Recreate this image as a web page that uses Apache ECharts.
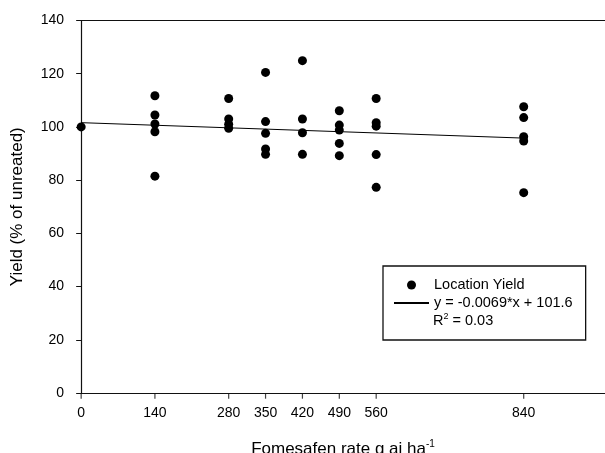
<!DOCTYPE html>
<html>
<head>
<meta charset="utf-8">
<script src="https://cdn.jsdelivr.net/npm/echarts@6/dist/echarts.min.js"></script>
<style>
  html, body { margin: 0; padding: 0; background: #fff; }
  #chart { width: 605px; height: 453px; }
</style>
</head>
<body>
<div id="chart"></div>
<script>
// fomesafen rates shown on the x axis
const rateTicks = [0, 140, 280, 350, 420, 490, 560, 840]
const yTicks = [0, 20, 40, 60, 80, 100, 120, 140]

// one entry per plotted point (rate, yield % of untreated)
const pointRate = [
  0,
  140, 140, 140, 140, 140,
  280, 280, 280, 280,
  350, 350, 350, 350, 350,
  420, 420, 420, 420,
  490, 490, 490, 490, 490,
  560, 560, 560, 560, 560,
  840, 840, 840, 840, 840
]
const pointYield = [
  100,
  111.7, 104.5, 101.1, 98.2, 81.5,
  110.7, 103, 101, 99.5,
  120.5, 102, 97.6, 91.7, 89.7,
  124.9, 103, 97.8, 89.7,
  106.1, 100.7, 98.8, 93.8, 89.2,
  110.7, 101.6, 100.3, 89.6, 77.3,
  107.6, 103.5, 96.3, 94.7, 75.3
]

// regression line end points
const fitX = [0, 840]
const fitY = [101.6, 95.8]

const fitName = 'y = -0.0069*x + 101.6'
const font = 'Liberation Sans, Arial, sans-serif'

const chart = echarts.init(document.getElementById('chart'))

chart.setOption({
  animation: false,
  backgroundColor: '#fff',
  grid: {
    left: 78,
    top: 20.5,
    bottom: 60,
    width: 530,
    containLabel: false,
    outerBoundsMode: 'none'
  },
  xAxis: [{
    type: 'value',
    min: -6,
    max: 1000,
    name: '{a|Fomesafen rate g ai ha}{b|-1}',
    nameLocation: 'middle',
    nameGap: 46,
    nameTextStyle: {
      rich: {
        a: { fontFamily: font, fontSize: 17, color: '#000', lineHeight: 20 },
        b: { fontFamily: font, fontSize: 10, color: '#000', verticalAlign: 'top', lineHeight: 20 }
      }
    },
    splitLine: { show: false },
    axisLine: { show: true, onZero: false, lineStyle: { color: '#111', width: 1.2 } },
    // custom tick values don't draw here, ticks come from the series below
    axisTick: { show: false },
    axisLabel: {
      customValues: rateTicks,
      margin: 13,
      fontFamily: font,
      fontSize: 14,
      color: '#000'
    }
  }, {
    // top frame line
    type: 'value',
    position: 'top',
    min: -6,
    max: 1000,
    splitLine: { show: false },
    axisLine: { show: true, onZero: false, lineStyle: { color: '#111', width: 1.2 } },
    axisTick: { show: false },
    axisLabel: { show: false }
  }],
  yAxis: {
    type: 'value',
    min: 0,
    max: 140,
    interval: 20,
    name: 'Yield (% of unreated)',
    nameLocation: 'middle',
    nameGap: 52,
    nameTextStyle: { fontFamily: font, fontSize: 17, color: '#000' },
    splitLine: { show: false },
    axisLine: { show: true, lineStyle: { color: '#111', width: 1.2 } },
    axisTick: { show: true, inside: false, length: 5, lineStyle: { color: '#111' } },
    axisLabel: {
      customValues: yTicks,
      margin: 14,
      fontFamily: font,
      fontSize: 14,
      color: '#000'
    }
  },
  legend: {
    orient: 'vertical',
    left: 383,
    top: 266,
    padding: [10, 13, 28, 10],
    itemWidth: 35,
    itemHeight: 9,
    itemGap: 0,
    borderColor: '#111',
    borderWidth: 1.3,
    selectedMode: false,
    textStyle: { fontFamily: font, fontSize: 14.5, color: '#000', lineHeight: 18 },
    data: [
      'Location Yield',
      { name: fitName, itemStyle: { opacity: 0 } }
    ]
  },
  graphic: [{
    type: 'text',
    left: 433,
    top: 312,
    style: {
      text: '{a|R}{b|2}{a| = 0.03}',
      rich: {
        a: { fontFamily: font, fontSize: 14.5, fill: '#000', lineHeight: 18 },
        b: { fontFamily: font, fontSize: 9, fill: '#000', verticalAlign: 'top', lineHeight: 18 }
      }
    }
  }],
  series: [{
    name: 'Location Yield',
    type: 'scatter',
    symbol: 'circle',
    symbolSize: 9,
    itemStyle: { color: '#000', opacity: 1 },
    data: pointRate.map((r, i) => [r, pointYield[i]])
  }, {
    name: fitName,
    type: 'line',
    symbol: 'none',
    itemStyle: { color: '#000' },
    lineStyle: { color: '#000', width: 1 },
    data: fitX.map((x, i) => [x, fitY[i]])
  }, {
    // x axis tick marks at the rates
    name: 'ticks',
    type: 'scatter',
    silent: true,
    clip: false,
    symbol: 'rect',
    symbolSize: [1.2, 5],
    symbolOffset: [0, 3.2],
    itemStyle: { color: '#111' },
    data: rateTicks.map(r => [r, 0])
  }]
})
</script>
</body>
</html>
